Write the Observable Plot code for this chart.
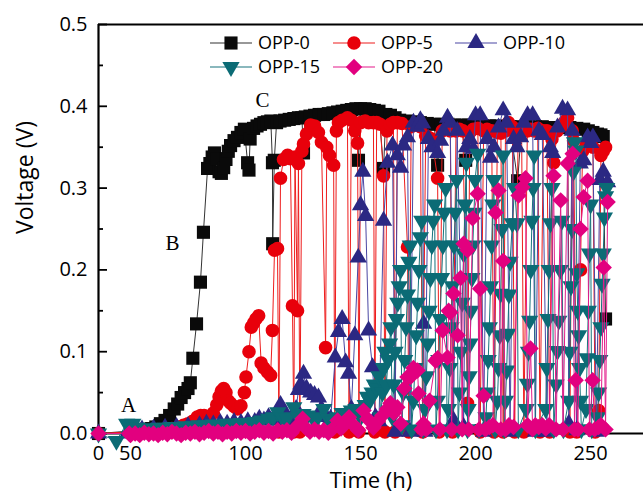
<!DOCTYPE html>
<html>
<head>
<meta charset="utf-8">
<script src="https://cdn.jsdelivr.net/npm/d3@7"></script>
<script src="https://cdn.jsdelivr.net/npm/@observablehq/plot@0.6"></script>
<style>
  html, body { margin: 0; padding: 0; background: #fff; }
  #chart { width: 643px; height: 498px; }
</style>
</head>
<body>
<div id="chart"></div>
<script>
// ---------- data (time in h, voltage in V) ----------
const seriesNames = ["OPP-0", "OPP-5", "OPP-10", "OPP-15", "OPP-20"];

const opp0 = [[0,0],[50,0.003],[53,0.004],[56,0.005],[59,0.006],[61,0.008],[63,0.012],[65,0.016],[67,0.022],[69,0.03],[70.5,0.036],[72,0.044],[73.5,0.05],[75,0.055],[76,0.062],[77.1,0.092],[78.7,0.134],[80.4,0.185],[81.7,0.246],[83.5,0.324],[84.5,0.33],[85.5,0.338],[86.5,0.343],[87.5,0.336],[88.5,0.32],[89.5,0.318],[90.5,0.325],[91.5,0.335],[92.5,0.345],[93.5,0.352],[95,0.358],[96.5,0.362],[98,0.368],[99.5,0.372],[100.9,0.331],[101.5,0.322],[102,0.36],[103.5,0.373],[105,0.376],[106.5,0.378],[108,0.38],[109.5,0.381],[111,0.382],[111.7,0.331],[111.8,0.232],[112.5,0.334],[113.5,0.38],[115,0.382],[117,0.383],[119,0.384],[121,0.385],[123,0.386],[124.5,0.386],[125.2,0.343],[126,0.387],[128,0.388],[130,0.389],[132,0.39],[134,0.39],[136,0.391],[138,0.392],[140,0.393],[142,0.394],[144,0.395],[146,0.396],[148,0.397],[149.1,0.334],[150,0.397],[152,0.397],[154,0.396],[156,0.395],[158,0.394],[160,0.324],[161,0.39],[163,0.389],[165,0.386],[167,0.383],[170,0.382],[173,0.381],[176,0.38],[179,0.379],[182,0.378],[183.5,0.328],[185,0.378],[188,0.378],[191,0.377],[194,0.377],[195.7,0.334],[197,0.377],[200,0.377],[203,0.376],[206,0.376],[209,0.376],[212,0.375],[215,0.375],[218.3,0.309],[220,0.375],[223,0.375],[226,0.375],[229,0.375],[232,0.374],[235,0.374],[238,0.374],[241,0.374],[244,0.373],[247,0.372],[249,0.37],[251,0.368],[253,0.366],[254.5,0.365],[255.5,0.363],[256.5,0.14]];

const opp5 = [[0,0],[50,0.002],[55,0.003],[60,0.004],[65,0.005],[68,0.006],[71,0.008],[73,0.01],[75,0.012],[77,0.015],[79,0.02],[80.5,0.022],[82,0.022],[84,0.02],[86,0.025],[87.5,0.035],[88.5,0.045],[89.5,0.052],[90.5,0.055],[91.5,0.05],[92.5,0.04],[93.5,0.037],[95,0.033],[96.5,0.03],[98,0.034],[99.5,0.05],[100.2,0.069],[101.5,0.1],[102.5,0.13],[103.5,0.135],[104.5,0.14],[105.7,0.144],[106.8,0.086],[108,0.08],[109.6,0.075],[110.9,0.071],[111.7,0.126],[112.6,0.224],[113.9,0.226],[114.5,0.002],[115.2,0.312],[116.5,0.335],[118.3,0.34],[119.5,0.336],[120.4,0.156],[121,0.002],[121.5,0.338],[122.6,0.15],[123,0.33],[123.6,0.002],[124.5,0.345],[125.2,0.354],[126.5,0.366],[128.3,0.377],[130,0.376],[131.7,0.368],[133,0.356],[134.8,0.105],[135.3,0.35],[136.5,0.34],[138.3,0.328],[138.8,0.002],[139.5,0.37],[140.4,0.38],[142,0.383],[144.3,0.386],[145,0.002],[146,0.383],[147.5,0.37],[148.7,0.355],[149.3,0.002],[150,0.38],[152,0.382],[153.5,0.38],[155.6,0.38],[156.2,0.002],[157,0.38],[158.5,0.378],[160,0.315],[160.6,0.002],[161.5,0.37],[163,0.378],[164.3,0.38],[165,0.002],[166,0.38],[168,0.379],[170.4,0.228],[171,0.002],[172,0.375],[174,0.378],[176,0.375],[177,0.002],[178.3,0.364],[179.5,0.362],[181,0.36],[183.5,0.312],[184.2,0.002],[185.5,0.37],[187,0.372],[189,0.37],[190,0.002],[191.5,0.37],[193,0.372],[194.5,0.37],[196.5,0.037],[197.5,0.368],[199,0.372],[201,0.373],[202,0.002],[203.5,0.37],[205,0.372],[207,0.37],[208,0.002],[209.5,0.368],[211,0.367],[212,0.002],[213,0.37],[214.3,0.38],[216,0.375],[217,0.002],[218.5,0.37],[220,0.372],[221,0.002],[222.5,0.37],[224,0.372],[225.5,0.37],[227,0.373],[228,0.002],[229.5,0.37],[231,0.37],[232.2,0.002],[233.2,0.36],[234,0.331],[235.5,0.37],[237,0.375],[238.5,0.38],[240,0.386],[241,0.002],[242,0.37],[242.6,0.358],[244,0.002],[245.6,0.2],[246.5,0.345],[248,0.352],[249.5,0.355],[251,0.35],[252,0.002],[253.5,0.028],[254.5,0.34],[255.5,0.345],[256.5,0.35]];

const opp10 = [[0,0],[45,0],[50,0.004],[55,0.005],[60,0.006],[65,0.007],[70,0.008],[75,0.009],[80,0.01],[83,0.012],[86,0.011],[89,0.013],[92,0.012],[95,0.014],[98,0.013],[101,0.015],[104,0.014],[106,0.018],[108,0.016],[110,0.02],[112,0.016],[113.5,0.025],[115.2,0.035],[116.5,0.028],[118,0.018],[120,0.016],[122,0.03],[123,0.053],[124,0.06],[125.2,0.073],[126.5,0.055],[128.3,0.05],[130,0.047],[131.7,0.044],[133,0.03],[135,0.02],[137,0.018],[139,0.093],[140.4,0.124],[142,0.14],[143.5,0.087],[144.8,0.073],[146,0.03],[147.5,0.12],[149,0.215],[150,0.279],[151,0.32],[152.2,0.266],[153.5,0.126],[155.2,0.081],[156.5,0.02],[158,0.015],[160,0.26],[161.7,0.331],[163.9,0.352],[165,0.002],[166,0.34],[167.4,0.325],[168.7,0.352],[170.4,0.362],[171.5,0.002],[173,0.38],[174.5,0.375],[176,0.383],[177,0.379],[177.4,0.134],[178,0.002],[179.5,0.36],[181,0.35],[183.5,0.343],[184.8,0.358],[186,0.37],[187.8,0.386],[189,0.38],[190.4,0.016],[192,0.37],[194.8,0.008],[196,0.35],[197.5,0.36],[199,0.348],[200,0.389],[202,0.389],[203.5,0.002],[205,0.36],[206.5,0.337],[208,0.35],[210,0.374],[212,0.395],[213.5,0.38],[215,0.002],[216.5,0.36],[218,0.35],[219.6,0.362],[221,0.38],[222.6,0.389],[224.8,0.389],[226,0.002],[227.5,0.37],[229,0.365],[231,0.002],[232.5,0.35],[233.5,0.343],[235.6,0.374],[237.8,0.397],[240,0.395],[240.5,0.012],[242,0.37],[244,0.004],[245.5,0.33],[247,0.334],[248.7,0.362],[250,0.355],[251,0.362],[252.5,0.002],[254,0.31],[255.5,0.32],[257.4,0.307]];

const opp15 = [[0,0],[28,-0.009],[44,0.012],[51,0.012],[53,0.007],[56,0.006],[59,0.006],[62,0.007],[65,0.007],[68,0.008],[71,0.008],[74,0.009],[77,0.009],[80,0.01],[83,0.01],[86,0.011],[89,0.01],[92,0.012],[95,0.012],[98,0.013],[101,0.013],[104,0.014],[107,0.016],[110,0.018],[112,0.02],[114,0.026],[116,0.02],[118,0.018],[121,0.032],[123,0.02],[125,0.024],[127,0.022],[129,0.02],[131,0.018],[134,0.03],[136,0.018],[138,0.015],[140,0.02],[142,0.025],[144,0.022],[146,0.028],[148,0.03],[150,0.02],[151,0.03],[152,0.035],[153,0.045],[154,0.04],[155,0.05],[156,0.06],[157,0.055],[158,0.07],[158.8,0.02],[159.5,0.05],[160,0.08],[160.6,0.1],[161.2,0.06],[162,0.09],[162.6,0.11],[163.2,0.13],[163.8,0.02],[164.4,0.06],[165,0.1],[165.6,0.14],[166.2,0.16],[166.8,0.18],[167.4,0.2],[168,0.01],[168.6,0.05],[169.2,0.09],[169.8,0.13],[170.4,0.17],[171,0.21],[171.6,0.23],[172.2,0.005],[173,0.04],[173.6,0.08],[174.2,0.12],[174.8,0.16],[175.4,0.2],[176,0.24],[176.6,0.26],[177.2,0.005],[178,0.03],[178.6,0.07],[179.2,0.11],[179.8,0.15],[180.4,0.19],[181,0.23],[181.6,0.26],[182.2,0.28],[182.8,0.005],[183.4,0.04],[184,0.09],[184.6,0.14],[185.2,0.19],[185.8,0.23],[186.4,0.27],[187,0.3],[187.6,0.005],[188.2,0.03],[188.8,0.08],[189.4,0.13],[190,0.18],[190.6,0.23],[191.2,0.27],[191.8,0.31],[192.4,0.005],[193,0.05],[193.6,0.1],[194.2,0.16],[194.8,0.22],[195.4,0.28],[196,0.331],[196.5,0.005],[196.8,0.03],[197.2,0.07],[197.6,0.11],[198,0.15],[198.4,0.19],[198.8,0.23],[199.3,0.27],[199.8,0.31],[200.9,0.342],[201.5,0.005],[204.5,0.02],[205,0.05],[205.5,0.09],[206,0.13],[206.5,0.18],[207,0.23],[207.5,0.28],[208,0.31],[208.5,0.005],[209.5,0.04],[210,0.08],[210.5,0.12],[210.9,0.171],[211.5,0.25],[212,0.34],[212.5,0.005],[213,0.04],[213.5,0.077],[214,0.122],[214.5,0.17],[215,0.21],[216,0.257],[217,0.3],[218,0.257],[218.6,0.005],[222,0.03],[222.5,0.061],[223,0.1],[223.5,0.138],[224,0.2],[224.5,0.26],[225,0.3],[225.5,0.34],[226,0.005],[230.5,0.03],[231,0.08],[231.5,0.14],[232,0.2],[232.6,0.257],[233.2,0.3],[234,0.005],[235,0.06],[235.6,0.101],[236.2,0.138],[236.8,0.2],[237.5,0.26],[238.2,0.005],[240.5,0.04],[241,0.1],[241.5,0.18],[242,0.25],[242.5,0.32],[243,0.356],[243.6,0.346],[244,0.196],[244.4,0.15],[244.8,0.12],[245.2,0.08],[245.6,0.04],[246,0.005],[248,0.03],[248.5,0.092],[249,0.15],[249.5,0.22],[250,0.28],[250.5,0.005],[253,0.02],[253.5,0.05],[254,0.09],[254.5,0.13],[255,0.183],[255.5,0.22],[256,0.264],[256.5,0.29],[257,0.3]];

const opp20 = [[0,0],[48,0],[50,-0.002],[52,0],[54,-0.002],[56,0.001],[58,-0.001],[60,0],[62,-0.002],[64,0.001],[66,-0.001],[68,0.002],[70,0],[72,-0.002],[74,0.001],[76,0],[78,0.002],[80,-0.001],[82,0.001],[84,0.003],[86,0],[88,0.002],[90,-0.001],[92,0.002],[94,0],[96,0.003],[98,0.001],[100,0.003],[102,0],[104,0.002],[106,0.004],[108,0.001],[110,0.003],[112,0],[114,0.004],[116,0.002],[118,0.004],[120,0.001],[122,0.008],[124.8,0.018],[126.5,0.006],[128,0.002],[130,0.005],[132,0.002],[134,0.004],[136,0.001],[138,0.006],[140,0.016],[141.5,0.006],[143,0.012],[145,0.02],[147,0.01],[149,0.004],[151.3,0.028],[153,0.018],[155.6,0.007],[157.5,0.015],[159.5,0.022],[161.5,0.03],[163,0.037],[164.5,0.025],[166,0.032],[167.5,0.012],[169,0.055],[170.4,0.069],[171.7,0.069],[173,0.08],[174.8,0.077],[175.2,0.049],[176.5,0.005],[177.4,0.012],[178.5,0.005],[180,0.04],[182.6,0.089],[183.5,0.092],[184.5,0.005],[185.7,0.126],[187.8,0.093],[188.3,0.15],[189,0.148],[189.6,0.005],[190.4,0.171],[192.2,0.12],[193.5,0.19],[194.2,0.005],[194.8,0.232],[196.5,0.224],[197,0.005],[198.7,0.263],[200.9,0.293],[201.5,0.005],[202,0.177],[203.5,0.046],[204.3,0.005],[206,0.008],[207.5,0.01],[208.7,0.27],[210,0.297],[211,0.005],[212,0.211],[213,0.005],[214.5,0.01],[216.5,0.008],[218.7,0.291],[220.4,0.301],[221.7,0.312],[222.6,0.01],[223.9,0.104],[224.8,0.005],[226,0.01],[227.5,0.008],[229,0.01],[230.5,0.006],[232,0.01],[233.9,0.315],[235,0.005],[237,0.285],[238,0.005],[240,0.33],[242.2,0.342],[243,0.005],[243.5,0.065],[244.5,0.005],[245.6,0.25],[247,0.289],[248.7,0.309],[249.5,0.005],[250.9,0.065],[251.8,0.005],[253.5,0.008],[254.5,0.01],[255.7,0.203],[256.5,0.005],[257.4,0.283]];

const xTicks = [0, 50, 100, 150, 200, 250];
const xTickMarks = [50, 100, 150, 200, 250];
const yMajor = [0, 0.1, 0.2, 0.3, 0.4, 0.5];
const yMinor = [0.05, 0.15, 0.25, 0.35, 0.45];
const annotLabels = ["A", "B", "C"];
const annotTime = [46.9, 68.3, 107.4];
const annotVoltage = [0.034, 0.233, 0.407];

// ---------- axis break: 0–50 h compressed (as in the original figure) ----------
const breakAt = 50, breakSqueeze = 0.2783;
const brk = t => (t >= breakAt ? t : breakAt - (breakAt - t) * breakSqueeze);
const xLabelOf = new Map(xTicks.map(t => [brk(t), String(t)]));

// ---------- styling ----------
const seriesData = [opp0, opp5, opp10, opp15, opp20];
const fillColors = ["#0a0a0a", "#e8000b", "#2b2883", "#0b6b75", "#e2007f"];
const lineColors = ["#333333", "#ee1c1c", "#4a47a3", "#17737c", "#e41a8a"];
const sqrt3 = Math.sqrt(3);
const triangleDown = {
  draw(context, size) {
    const y = -Math.sqrt(size / (sqrt3 * 3));
    context.moveTo(0, -y * 2);
    context.lineTo(-sqrt3 * y, y);
    context.lineTo(sqrt3 * y, y);
    context.closePath();
  }
};
const symbols = ["square", "circle", "triangle", triangleDown, "diamond2"];
const radii = [7.4, 6.8, 6.4, 6.4, 7.4];

const W = 643, H = 498, ML = 98, MR = 0, MT = 24, MB = 65;
const frameW = W - ML - MR, frameH = H - MT - MB;
const font = "'Open Sans', 'Noto Sans', sans-serif";

const marks = [
  Plot.ruleY([0.5], {stroke: "#000", strokeWidth: 2}),
  Plot.ruleY([0], {stroke: "#000", strokeWidth: 2.2}),
  Plot.ruleX([brk(0)], {stroke: "#000", strokeWidth: 2.2}),
  Plot.ruleY(yMajor, {y: d => d, insetRight: frameW - 9, stroke: "#000", strokeWidth: 1.8}),
  Plot.ruleY(yMinor, {y: d => d, insetRight: frameW - 5, stroke: "#000", strokeWidth: 1.8}),
  Plot.ruleX(xTickMarks, {x: d => brk(d), insetTop: frameH - 9, stroke: "#000", strokeWidth: 1.8})
];

seriesData.forEach((pts, i) => {
  const rows = pts.map(([t, v]) => ({t: brk(t), v, series: seriesNames[i]}));
  marks.push(Plot.line(rows, {x: "t", y: "v", stroke: lineColors[i], strokeWidth: 1}));
  marks.push(Plot.dot(rows, {x: "t", y: "v", symbol: () => symbols[i], r: radii[i], fill: fillColors[i], stroke: "none"}));
});

marks.push(
  Plot.text(annotLabels, {x: (d, i) => brk(annotTime[i]), y: (d, i) => annotVoltage[i], text: d => d,
    fontFamily: "'Liberation Serif', 'Times New Roman', serif", fontSize: 21, fill: "#000"}),
  Plot.text(["Time (h)"], {frameAnchor: "bottom", lineAnchor: "middle", dy: 47, fontSize: 22, fill: "#000"}),
  Plot.text(["Voltage (V)"], {frameAnchor: "left", lineAnchor: "middle", dx: -73, dy: 5, rotate: -90, fontSize: 23, fill: "#000"})
);

const chart = Plot.plot({
  width: W, height: H,
  marginLeft: ML, marginRight: MR, marginTop: MT, marginBottom: MB,
  style: {fontFamily: font, fontSize: "20px", color: "#000", background: "#fff", overflow: "visible"},
  x: {type: "linear", domain: [brk(0), 273], ticks: xTicks.map(brk), tickSize: 0, tickPadding: 12,
      tickFormat: d => xLabelOf.get(d), label: null},
  y: {domain: [0, 0.5], ticks: yMajor, tickSize: 0, tickPadding: 11, tickFormat: d3.format(".1f"), label: null},
  marks
});
document.getElementById("chart").appendChild(chart);

// ---------- legend (inside plot, top) ----------
const svg = d3.select(chart);
const lg = svg.append("g").attr("font-family", font).attr("font-size", 18).attr("text-anchor", "start");
const legendCols = [210, 333, 455];
const legendRows = [43, 67];
const symbolTypes = {square: d3.symbolSquare, circle: d3.symbolCircle, triangle: d3.symbolTriangle, diamond2: d3.symbolDiamond2};
seriesNames.forEach((name, i) => {
  const cx = legendCols[i % 3], cy = legendRows[Math.floor(i / 3)];
  lg.append("line").attr("x1", cx).attr("x2", cx + 42).attr("y1", cy).attr("y2", cy)
    .attr("stroke", lineColors[i]).attr("stroke-width", 1.2);
  const sym = typeof symbols[i] === "string" ? symbolTypes[symbols[i]] : symbols[i];
  lg.append("path").attr("transform", `translate(${cx + 21},${cy})`)
    .attr("d", d3.symbol(sym, Math.PI * radii[i] * radii[i])()).attr("fill", fillColors[i]);
  lg.append("text").attr("x", cx + 48).attr("y", cy).attr("dy", "0.35em")
    .attr("text-anchor", "start").attr("fill", "#000").text(name);
});
</script>
</body>
</html>
